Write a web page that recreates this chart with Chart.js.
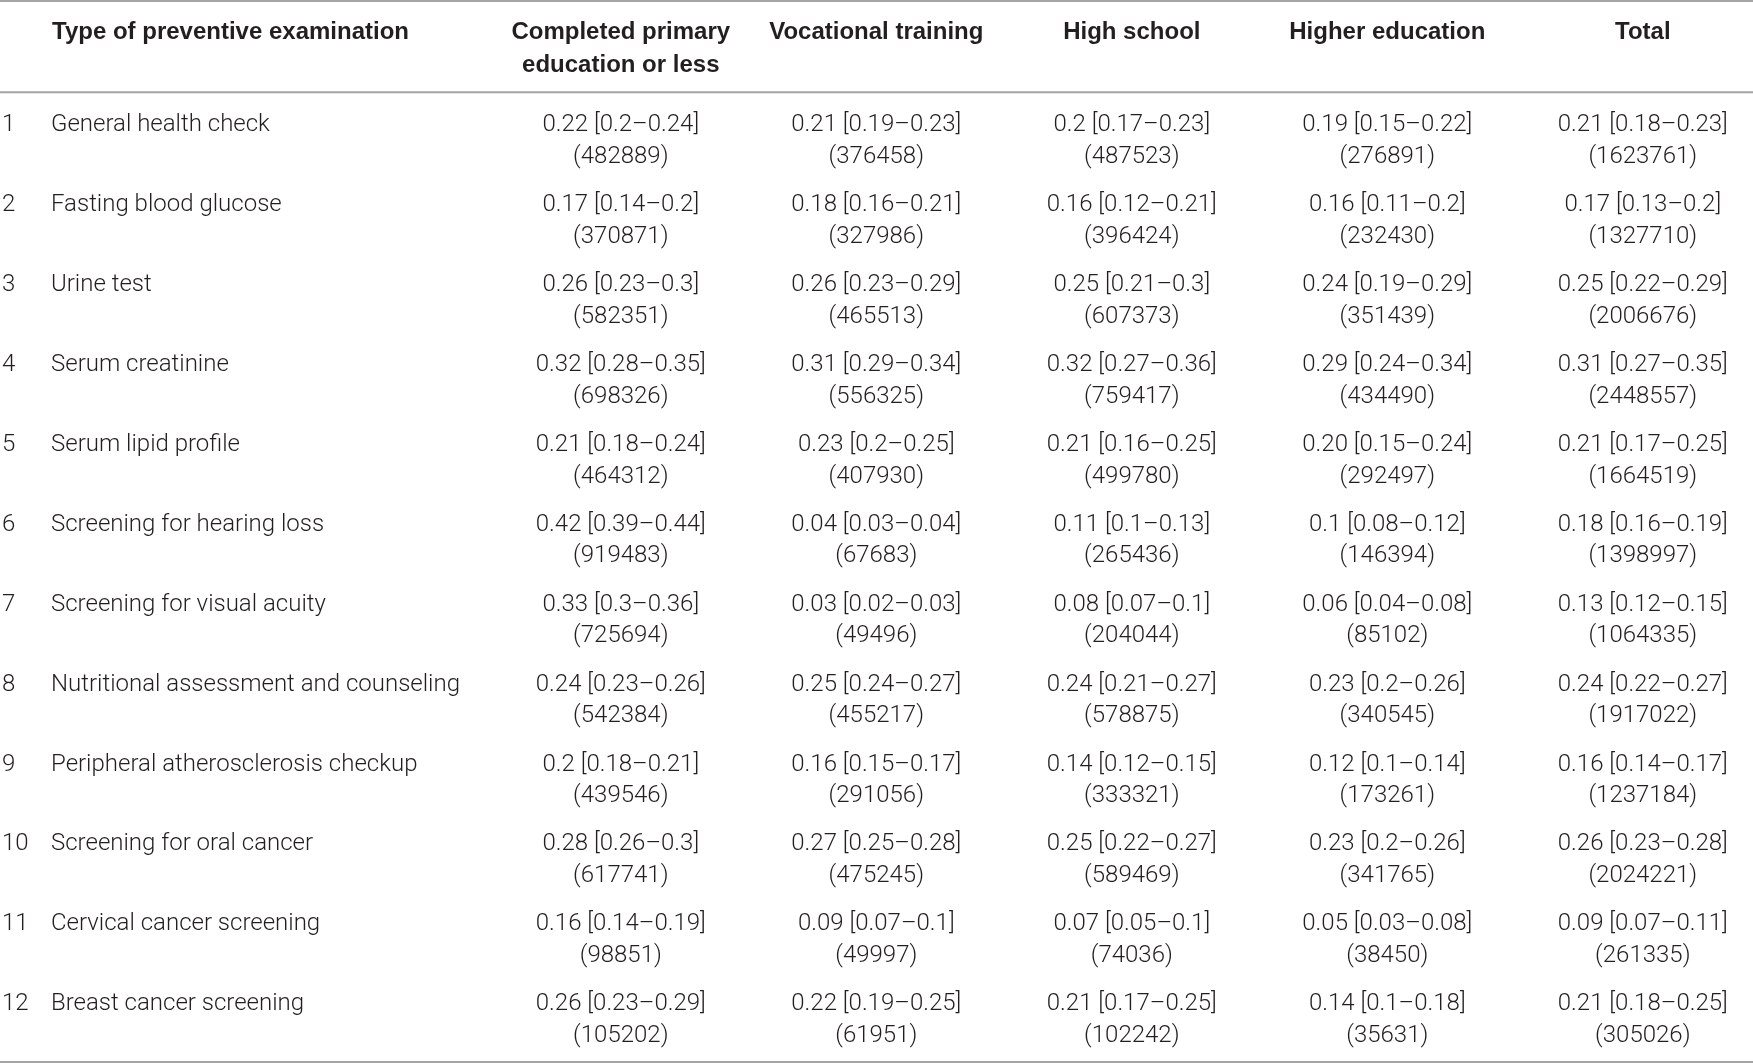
<!DOCTYPE html>
<html>
<head>
<meta charset="utf-8">
<script src="https://cdn.jsdelivr.net/npm/chart.js@4.4.1/dist/chart.umd.min.js"></script>
<style>
  html, body { margin: 0; padding: 0; background: #ffffff; }
  #wrap { width: 1753px; height: 1064px; position: relative; }
</style>
</head>
<body>
<div id="wrap"><canvas id="c"></canvas></div>
<script>
// ---------- DATA ----------
const rowNumbers = ['1','2','3','4','5','6','7','8','9','10','11','12'];
const examTypes = [
  'General health check',
  'Fasting blood glucose',
  'Urine test',
  'Serum creatinine',
  'Serum lipid profile',
  'Screening for hearing loss',
  'Screening for visual acuity',
  'Nutritional assessment and counseling',
  'Peripheral atherosclerosis checkup',
  'Screening for oral cancer',
  'Cervical cancer screening',
  'Breast cancer screening'
];
const firstHeader = 'Type of preventive examination';
const columnHeaders = [
  ['Completed primary', 'education or less'],
  ['Vocational training'],
  ['High school'],
  ['Higher education'],
  ['Total']
];

const primaryEst = ['0.22 [0.2–0.24]','0.17 [0.14–0.2]','0.26 [0.23–0.3]','0.32 [0.28–0.35]','0.21 [0.18–0.24]','0.42 [0.39–0.44]','0.33 [0.3–0.36]','0.24 [0.23–0.26]','0.2 [0.18–0.21]','0.28 [0.26–0.3]','0.16 [0.14–0.19]','0.26 [0.23–0.29]'];
const primaryN = [482889, 370871, 582351, 698326, 464312, 919483, 725694, 542384, 439546, 617741, 98851, 105202];

const vocationalEst = ['0.21 [0.19–0.23]','0.18 [0.16–0.21]','0.26 [0.23–0.29]','0.31 [0.29–0.34]','0.23 [0.2–0.25]','0.04 [0.03–0.04]','0.03 [0.02–0.03]','0.25 [0.24–0.27]','0.16 [0.15–0.17]','0.27 [0.25–0.28]','0.09 [0.07–0.1]','0.22 [0.19–0.25]'];
const vocationalN = [376458, 327986, 465513, 556325, 407930, 67683, 49496, 455217, 291056, 475245, 49997, 61951];

const highSchoolEst = ['0.2 [0.17–0.23]','0.16 [0.12–0.21]','0.25 [0.21–0.3]','0.32 [0.27–0.36]','0.21 [0.16–0.25]','0.11 [0.1–0.13]','0.08 [0.07–0.1]','0.24 [0.21–0.27]','0.14 [0.12–0.15]','0.25 [0.22–0.27]','0.07 [0.05–0.1]','0.21 [0.17–0.25]'];
const highSchoolN = [487523, 396424, 607373, 759417, 499780, 265436, 204044, 578875, 333321, 589469, 74036, 102242];

const higherEdEst = ['0.19 [0.15–0.22]','0.16 [0.11–0.2]','0.24 [0.19–0.29]','0.29 [0.24–0.34]','0.20 [0.15–0.24]','0.1 [0.08–0.12]','0.06 [0.04–0.08]','0.23 [0.2–0.26]','0.12 [0.1–0.14]','0.23 [0.2–0.26]','0.05 [0.03–0.08]','0.14 [0.1–0.18]'];
const higherEdN = [276891, 232430, 351439, 434490, 292497, 146394, 85102, 340545, 173261, 341765, 38450, 35631];

const totalEst = ['0.21 [0.18–0.23]','0.17 [0.13–0.2]','0.25 [0.22–0.29]','0.31 [0.27–0.35]','0.21 [0.17–0.25]','0.18 [0.16–0.19]','0.13 [0.12–0.15]','0.24 [0.22–0.27]','0.16 [0.14–0.17]','0.26 [0.23–0.28]','0.09 [0.07–0.11]','0.21 [0.18–0.25]'];
const totalN = [1623761, 1327710, 2006676, 2448557, 1664519, 1398997, 1064335, 1917022, 1237184, 2024221, 261335, 305026];

// ---------- BUILD ----------
const columnEst = [primaryEst, vocationalEst, highSchoolEst, higherEdEst, totalEst];
const columnN = [primaryN, vocationalN, highSchoolN, higherEdN, totalN];

const TEXT = '#231f20';
const RULE = '#a4a4a4';
const BODY_FONT = '300 24px Roboto, "Liberation Sans", sans-serif';
const HEAD_FONT = 'bold 24px "Liberation Sans", Arial, sans-serif';

const datasets = columnEst.map((est, c) => ({
  label: columnHeaders[c].join(' '),
  data: est.map((_, r) => ({ x: c, y: r })),
  estLabels: est,
  nLabels: columnN[c],
  pointRadius: 0,
  pointHoverRadius: 0,
  showLine: false
}));

const tablePlugin = {
  id: 'tableText',
  afterDatasetsDraw(chart) {
    const ctx = chart.ctx;
    const area = chart.chartArea;
    const xs = chart.scales.x, ys = chart.scales.y;
    const W = chart.width;
    ctx.save();
    // rules
    ctx.fillStyle = RULE;
    ctx.fillRect(0, 0, W, 2);
    ctx.fillRect(0, area.top - 0.3, W, 2);
    ctx.fillRect(0, area.bottom + 10.9, W, 2);

    ctx.fillStyle = TEXT;
    ctx.textBaseline = 'alphabetic';
    // header
    ctx.font = HEAD_FONT;
    ctx.textAlign = 'left';
    const hy = area.top - 52.5;
    ctx.fillText(firstHeader, 52, hy);
    ctx.textAlign = 'center';
    columnHeaders.forEach((lines, c) => {
      const x = xs.getPixelForValue(c);
      lines.forEach((ln, k) => ctx.fillText(ln, x, hy + k * 33));
    });

    // row labels
    ctx.font = BODY_FONT;
    ctx.textAlign = 'left';
    examTypes.forEach((name, r) => {
      const y = ys.getPixelForValue(r);
      ctx.fillText(rowNumbers[r], 2, y);
      ctx.fillText(name, 51, y);
    });

    // cells
    ctx.textAlign = 'center';
    chart.data.datasets.forEach((ds, d) => {
      const meta = chart.getDatasetMeta(d);
      meta.data.forEach((el, i) => {
        ctx.fillText(ds.estLabels[i], el.x, el.y);
        ctx.fillText('(' + ds.nLabels[i] + ')', el.x, el.y + 31.5);
      });
    });
    ctx.restore();
  }
};

new Chart(document.getElementById('c'), {
  type: 'scatter',
  data: { datasets },
  options: {
    responsive: true,
    maintainAspectRatio: false,
    animation: false,
    events: [],
    layout: { padding: { left: 620.8, right: 110.2, top: 91.56, bottom: 13.9 } },
    scales: {
      x: { type: 'linear', min: 0, max: 4, display: false },
      y: { type: 'linear', min: -0.5, max: 11.5, reverse: true, display: false }
    },
    plugins: { legend: { display: false }, tooltip: { enabled: false }, title: { display: false } }
  },
  plugins: [tablePlugin]
});
</script>
</body>
</html>
